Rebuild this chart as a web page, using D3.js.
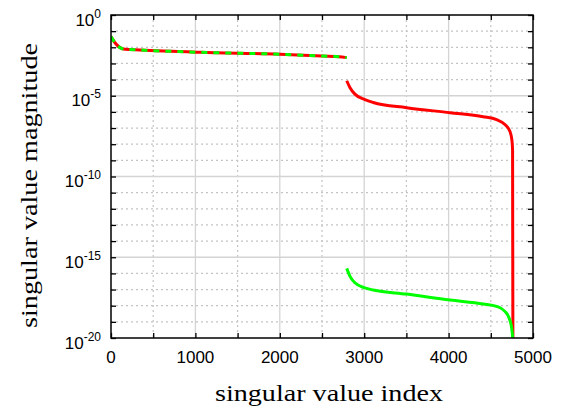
<!DOCTYPE html>
<html lang="en">
<head>
    <meta charset="UTF-8">
    <title>singular values</title>
    <script src="https://d3js.org/d3.v7.min.js"></script>
    <style>
        body { margin: 0; background: #fff; }
        .sans { font-family: "Liberation Sans", Arial, Helvetica, sans-serif; }
        .serif { font-family: "Liberation Serif", "Times New Roman", Times, serif; }
    </style>
</head>
<body>
 <div id="mainbody"></div>
 <script>

    // values (x = index, y = log10 of magnitude)
    const headIdx = [0, 47, 107, 166, 344, 1054, 2002, 2500, 2700, 2793];
    const headExp = [-1.34, -1.72, -2.02, -2.12, -2.17, -2.31, -2.43, -2.54, -2.58, -2.64];

    const tailIdx = [2793, 2832, 2890, 3009, 3107, 3502, 4016, 4410, 4568, 4667, 4726, 4750, 4758, 4762];
    const redExp  = [-4.07, -4.50, -4.90, -5.24, -5.42, -5.74, -6.05, -6.30, -6.48, -6.78, -7.20, -7.74, -8.36, -20.5];
    const greenExp = [-15.69, -16.18, -16.58, -16.90, -17.03, -17.28, -17.65, -17.89, -18.04, -18.35, -18.89, -19.50, -19.98, -20.5];

    const xTicks = [0, 1000, 2000, 3000, 4000, 5000];
    const yTickExp = [0, -5, -10, -15, -20];

    const W = 564, H = 406;
    const pL = 111, pR = 533, pT = 15, pB = 338;

    const svg = d3.select("#mainbody").append("svg")
        .attr("width", W)
        .attr("height", H);

    const x = d3.scaleLinear().domain([0, 5000]).range([pL, pR]);
    const y = d3.scaleLog().domain([1e-20, 1]).range([pB, pT]);

    // grid: dotted minor lines, solid major lines
    const minorX = d3.range(500, 5000, 1000);
    const minorY = d3.range(-1, -20, -1).filter(e => e % 5 !== 0).map(e => Math.pow(10, e));
    const majorX = xTicks.slice(1, -1);
    const majorY = yTickExp.slice(1, -1).map(e => Math.pow(10, e));

    const grid = svg.append("g");
    grid.selectAll(".mx").data(minorX).enter().append("line")
        .attr("x1", d => x(d)).attr("x2", d => x(d))
        .attr("y1", pT).attr("y2", pB)
        .attr("stroke", "#c4c4c4").attr("stroke-width", 1.2).attr("stroke-dasharray", "2,3");
    grid.selectAll(".my").data(minorY).enter().append("line")
        .attr("y1", d => y(d)).attr("y2", d => y(d))
        .attr("x1", pL).attr("x2", pR)
        .attr("stroke", "#c4c4c4").attr("stroke-width", 1.2).attr("stroke-dasharray", "2,3");
    grid.selectAll(".Mx").data(majorX).enter().append("line")
        .attr("x1", d => x(d)).attr("x2", d => x(d))
        .attr("y1", pT).attr("y2", pB)
        .attr("stroke", "#d4d4d4").attr("stroke-width", 1.3);
    grid.selectAll(".My").data(majorY).enter().append("line")
        .attr("y1", d => y(d)).attr("y2", d => y(d))
        .attr("x1", pL).attr("x2", pR)
        .attr("stroke", "#d4d4d4").attr("stroke-width", 1.3);

    // curves
    svg.append("clipPath").attr("id", "clip").append("rect")
        .attr("x", pL).attr("y", pT).attr("width", pR - pL).attr("height", pB - pT);

    const line = d3.line()
        .x(d => x(d[0]))
        .y(d => y(Math.pow(10, d[1])))
        .curve(d3.curveMonotoneX);

    const head = headIdx.map((d, i) => [d, headExp[i]]);
    const redTail = tailIdx.map((d, i) => [d, redExp[i]]);
    const greenTail = tailIdx.map((d, i) => [d, greenExp[i]]);

    const curves = svg.append("g").attr("clip-path", "url(#clip)");
    curves.append("path").attr("d", line(head))
        .attr("fill", "none").attr("stroke", "#ff0000").attr("stroke-width", 3);
    curves.append("path").attr("d", line(head))
        .attr("fill", "none").attr("stroke", "#00ff00").attr("stroke-width", 3)
        .attr("stroke-dasharray", "6,6");
    curves.append("path").attr("d", line(redTail))
        .attr("fill", "none").attr("stroke", "#ff0000").attr("stroke-width", 3);
    curves.append("path").attr("d", line(greenTail))
        .attr("fill", "none").attr("stroke", "#00ff00").attr("stroke-width", 3);

    // axes: inward ticks on all four sides
    const xMinor = d3.range(0, 5001, 500);
    const yMinor = d3.range(0, -21, -1).map(e => Math.pow(10, e));

    svg.append("g").attr("transform", `translate(0,${pB})`)
        .call(d3.axisBottom(x).tickValues(xMinor).tickSize(-5).tickFormat(""))
        .call(g => g.select(".domain").remove());
    svg.append("g").attr("transform", `translate(0,${pT})`)
        .call(d3.axisTop(x).tickValues(xMinor).tickSize(-5).tickFormat(""))
        .call(g => g.select(".domain").remove());
    svg.append("g").attr("transform", `translate(${pL},0)`)
        .call(d3.axisLeft(y).tickValues(yMinor).tickSize(-5).tickFormat(""))
        .call(g => g.select(".domain").remove());
    svg.append("g").attr("transform", `translate(${pR},0)`)
        .call(d3.axisRight(y).tickValues(yMinor).tickSize(-5).tickFormat(""))
        .call(g => g.select(".domain").remove());
    svg.selectAll(".tick line").attr("stroke", "#000").attr("stroke-width", 1.3);

    svg.append("rect")
        .attr("x", pL).attr("y", pT).attr("width", pR - pL).attr("height", pB - pT)
        .attr("fill", "none").attr("stroke", "#000").attr("stroke-width", 1.5);

    // tick labels
    svg.selectAll(".xl").data(xTicks).enter().append("text")
        .attr("class", "sans")
        .attr("x", d => x(d)).attr("y", 363)
        .attr("text-anchor", "middle")
        .attr("font-size", 17)
        .text(d => d);

    const yl = svg.selectAll(".yl").data(yTickExp).enter().append("text")
        .attr("class", "sans")
        .attr("x", 101).attr("y", d => y(Math.pow(10, d)) + 10.5)
        .attr("text-anchor", "end")
        .attr("font-size", 17);
    yl.append("tspan").text("10");
    yl.append("tspan").attr("font-size", 12).attr("dy", -8).text(d => d);

    // axis titles
    svg.append("text")
        .attr("class", "serif")
        .attr("x", 329).attr("y", 401)
        .attr("text-anchor", "middle")
        .attr("font-size", 24)
        .attr("textLength", 228).attr("lengthAdjust", "spacingAndGlyphs")
        .text("singular value index");

    svg.append("text")
        .attr("class", "serif")
        .attr("transform", "translate(37,185.5) rotate(-90)")
        .attr("text-anchor", "middle")
        .attr("font-size", 24)
        .attr("textLength", 285).attr("lengthAdjust", "spacingAndGlyphs")
        .text("singular value magnitude");

 </script>
</body>
</html>
